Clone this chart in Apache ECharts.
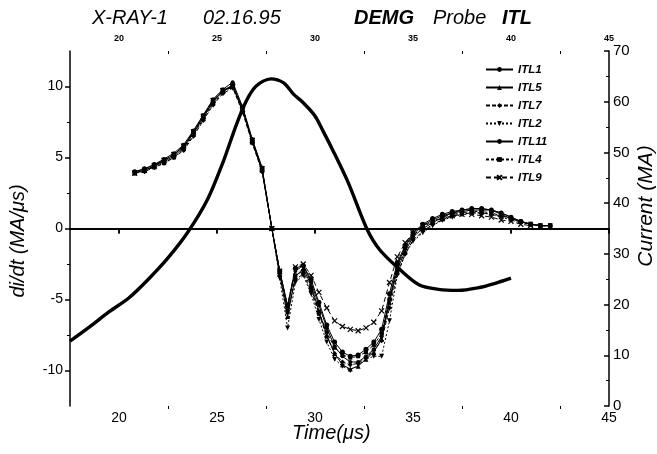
<!DOCTYPE html>
<html>
<head>
<meta charset="utf-8">
<script src="https://cdn.jsdelivr.net/npm/echarts@6/dist/echarts.min.js"></script>
<style>
html,body{margin:0;padding:0;background:#fff;}
#c{width:657px;height:454px;}
</style>
</head>
<body>
<div id="c"></div>
<script>
// ---- data ----
var T = [20.8,21.3,21.8,22.3,22.8,23.3,23.8,24.3,24.8,25.3,25.8,26.3,26.8,27.3,27.8,28.2,28.6,29.0,29.4,29.8,30.2,30.6,31.0,31.4,31.8,32.2,32.6,33.0,33.4,33.8,34.2,34.6,35.0,35.5,36.0,36.5,37.0,37.5,38.0,38.5,39.0,39.5,40.0,40.5,41.0,41.5,42.0];
var ITL1  = [4.0,4.2,4.5,4.9,5.3,5.9,6.9,8.0,9.1,9.8,10.3,8.6,6.3,4.3,0.0,-3.0,-5.5,-3.0,-2.6,-3.8,-5.4,-7.0,-8.3,-9.0,-9.4,-9.4,-9.0,-8.5,-7.6,-5.0,-2.6,-1.3,-0.4,0.2,0.6,0.9,1.1,1.2,1.3,1.3,1.3,1.1,0.8,0.5,0.3,0.2,0.2];
var ITL5  = [3.9,4.1,4.4,4.7,5.1,5.7,6.7,7.8,8.9,9.7,10.0,8.4,6.1,4.1,0.0,-3.2,-6.2,-3.4,-2.8,-4.0,-5.8,-7.5,-8.8,-9.6,-9.9,-9.7,-9.2,-8.7,-7.8,-5.2,-2.9,-1.6,-0.6,0.0,0.4,0.8,1.1,1.3,1.4,1.4,1.3,1.0,0.7,0.5,0.3,0.2,0.2];
var ITL7  = [3.9,4.0,4.3,4.6,5.0,5.5,6.5,7.6,8.7,9.5,9.9,8.2,6.0,4.0,0.0,-3.3,-5.8,-3.6,-3.2,-4.4,-6.0,-7.6,-8.8,-9.4,-9.6,-9.5,-9.1,-8.6,-7.9,-5.6,-3.2,-1.8,-0.8,-0.2,0.3,0.6,0.9,1.0,1.1,1.1,1.0,0.9,0.7,0.5,0.3,0.2,0.2];
var ITL2  = [3.9,4.1,4.4,4.8,5.2,5.8,6.8,7.9,9.0,9.7,10.1,8.5,6.2,4.2,0.0,-3.5,-7.0,-3.8,-3.3,-4.6,-6.4,-8.0,-9.2,-9.7,-10.0,-9.6,-9.2,-9.0,-9.0,-6.5,-3.3,-1.8,-0.9,-0.3,0.2,0.6,0.8,1.0,1.1,1.1,1.0,0.8,0.6,0.4,0.3,0.2,0.2];
var ITL11 = [4.0,4.2,4.5,4.8,5.2,5.8,6.8,7.9,9.0,9.7,10.1,8.5,6.2,4.2,0.0,-3.0,-5.4,-2.8,-2.6,-3.6,-5.2,-6.8,-8.0,-8.7,-9.0,-8.9,-8.5,-8.0,-7.1,-4.6,-2.4,-1.2,-0.3,0.3,0.7,1.0,1.2,1.3,1.4,1.4,1.3,1.1,0.8,0.5,0.3,0.2,0.2];
var ITL4  = [3.9,4.1,4.3,4.6,5.0,5.6,6.6,7.7,8.8,9.6,10.0,8.3,6.1,4.1,0.0,-3.1,-5.9,-3.3,-3.0,-4.2,-5.9,-7.3,-8.4,-8.9,-9.1,-9.0,-8.7,-8.2,-7.4,-5.0,-2.7,-1.4,-0.5,0.1,0.5,0.8,1.0,1.1,1.2,1.2,1.1,0.9,0.7,0.5,0.3,0.2,0.2];
var ITL9  = [3.9,4.1,4.4,4.8,5.2,5.8,6.8,7.9,9.0,9.7,10.0,8.4,6.2,4.2,0.0,-3.0,-5.5,-2.7,-2.5,-3.3,-4.5,-5.6,-6.5,-6.9,-7.1,-7.2,-7.0,-6.6,-5.8,-3.8,-2.0,-1.0,-0.3,0.2,0.5,0.7,0.9,1.0,1.0,0.9,0.8,0.6,0.5,0.3,0.2,null,null];
var curT = [17.5,18.5,19.5,20.5,21.5,22.5,23.5,24.5,25.3,26.0,26.5,27.0,27.75,28.4,28.9,29.4,30.0,30.4,30.9,31.7,32.65,33.3,34.3,35.3,36.3,37.3,38.3,39.2,40.0];
var curI = [12.8,15.6,18.6,21.3,25.0,29.2,34.2,40.6,48.0,55.6,60.2,63.1,64.5,63.7,61.5,59.8,57.2,54.3,50.5,44.0,34.9,30.8,27.0,23.9,23.0,22.8,23.3,24.2,25.2];
var xTicks = [20,25,30,35,40,45];
var xMinor = [22.5,27.5,32.5,37.5,42.5];
var yTicks = [-10,-5,0,5,10];
var yMinor = [-7.5,-2.5,2.5,7.5];
var names = ['ITL1','ITL5','ITL7','ITL2','ITL11','ITL4','ITL9'];
var vals = [ITL1,ITL5,ITL7,ITL2,ITL11,ITL4,ITL9];

// ---- styles ----
var FF = '"Liberation Sans", Arial, sans-serif';
var symbols = ['circle','triangle','diamond','triangle','circle','rect','path://M0 0L10 10M10 0L0 10'];
var symRot = [0,0,0,180,0,0,0];
var symSize = [4,5,5,5,5,4,5];
var dash = ['solid','solid',[4,2],[2,2],'solid',[3,2],[5,3]];

function zip(a,b){var r=[];for(var i=0;i<a.length;i++){r.push([a[i],b[i]]);}return r;}

var series = [];
for (var k=0;k<names.length;k++){
  var s = {
    name: names[k], type:'line', xAxisIndex:0, yAxisIndex:0,
    data: zip(T, vals[k]),
    symbol: symbols[k], symbolRotate: symRot[k], symbolSize: symSize[k],
    showSymbol: true,
    lineStyle:{color:'#000', width:1, type:dash[k]},
    itemStyle:{color:'#000', borderColor:'#000', borderWidth: k===6?1.2:0},
    emphasis:{disabled:true},
    z: 3
  };
  if (k===0){
    s.markLine = {silent:true, symbol:['none','none'], label:{show:false},
      lineStyle:{color:'#000', width:1.5, type:'solid'}, data:[{yAxis:0}], animation:false};
  }
  series.push(s);
}
series.push({
  name:'Current', type:'line', xAxisIndex:0, yAxisIndex:1,
  data: zip(curT, curI), smooth:0.3, symbol:'none',
  lineStyle:{color:'#000', width:3.4}, z:4
});

var axLine = {show:true, lineStyle:{color:'#000', width:1.5}};
var option = {
  animation:false,
  backgroundColor:'#fff',
  grid:{left:70, right:48, top:51, bottom:48, containLabel:false},
  legend:{
    data:names, orient:'vertical', left:480, top:58,
    itemWidth:27, itemHeight:6, itemGap:5,
    textStyle:{fontFamily:FF, fontSize:11.5, lineHeight:13, fontStyle:'italic', fontWeight:'bold', color:'#000'},
    selectedMode:false
  },
  xAxis:[
    {type:'value', position:'bottom', min:17.5, max:45, axisLine:axLine,
     axisTick:{show:true, customValues:xTicks, length:5, lineStyle:{color:'#000', width:1.5}},
     axisLabel:{customValues:xTicks, fontFamily:FF, fontSize:14, color:'#000', margin:5},
     splitLine:{show:false}},
    {type:'value', position:'bottom', min:17.5, max:45, axisLine:{show:false},
     axisTick:{show:true, customValues:xMinor, length:3, lineStyle:{color:'#000', width:1}},
     axisLabel:{show:false}, splitLine:{show:false}},
    {type:'value', position:'top', min:17.5, max:45, axisLine:axLine,
     axisTick:{show:true, inside:true, customValues:xTicks, length:5, lineStyle:{color:'#000', width:1.5}},
     axisLabel:{customValues:xTicks, fontFamily:FF, fontSize:9, fontWeight:'bold', color:'#000', margin:8},
     splitLine:{show:false}},
    {type:'value', position:'top', min:17.5, max:45, axisLine:{show:false},
     axisTick:{show:true, inside:true, customValues:xMinor, length:3, lineStyle:{color:'#000', width:1}},
     axisLabel:{show:false}, splitLine:{show:false}}
  ],
  yAxis:[
    {type:'value', position:'left', min:-12.5, max:12.5, axisLine:axLine,
     axisTick:{show:true, customValues:yTicks, length:5, lineStyle:{color:'#000', width:1.5}},
     axisLabel:{customValues:yTicks, fontFamily:FF, fontSize:14, color:'#000', margin:7},
     splitLine:{show:false}},
    {type:'value', position:'right', min:0, max:70, interval:10, axisLine:axLine,
     axisTick:{show:true, inside:true, length:5, lineStyle:{color:'#000', width:1.5}},
     minorTick:{show:true, splitNumber:2, length:3, lineStyle:{color:'#000', width:1}},
     axisLabel:{fontFamily:FF, fontSize:15, color:'#000', margin:4},
     splitLine:{show:false}},
    {type:'value', position:'left', min:-12.5, max:12.5, axisLine:{show:false},
     axisTick:{show:true, customValues:yMinor, length:3, lineStyle:{color:'#000', width:1}},
     axisLabel:{show:false}, splitLine:{show:false}}
  ],
  graphic:[
    {type:'text', left:92, top:8, style:{text:'X-RAY-1', font:'italic 20px '+FF, fill:'#000'}},
    {type:'text', left:203, top:8, style:{text:'02.16.95', font:'italic 20px '+FF, fill:'#000'}},
    {type:'text', left:354, top:8, style:{text:'DEMG', font:'italic bold 20px '+FF, fill:'#000'}},
    {type:'text', left:433, top:8, style:{text:'Probe', font:'italic 20px '+FF, fill:'#000'}},
    {type:'text', left:502, top:8, style:{text:'ITL', font:'italic bold 20px '+FF, fill:'#000'}},
    {type:'text', left:292, top:423, style:{text:'Time(\u03bcs)', font:'italic 20px '+FF, fill:'#000'}},
    {type:'text', x:18, y:241, rotation:Math.PI/2,
     style:{text:'di/dt (MA/\u03bcs)', font:'italic 20px '+FF, fill:'#000', textAlign:'center', textVerticalAlign:'middle'}},
    {type:'text', x:646, y:206, rotation:Math.PI/2,
     style:{text:'Current (MA)', font:'italic 21px '+FF, fill:'#000', textAlign:'center', textVerticalAlign:'middle'}}
  ],
  series:series
};
var chart = echarts.init(document.getElementById('c'), null, {renderer:'canvas'});
chart.setOption(option);
</script>
</body>
</html>
